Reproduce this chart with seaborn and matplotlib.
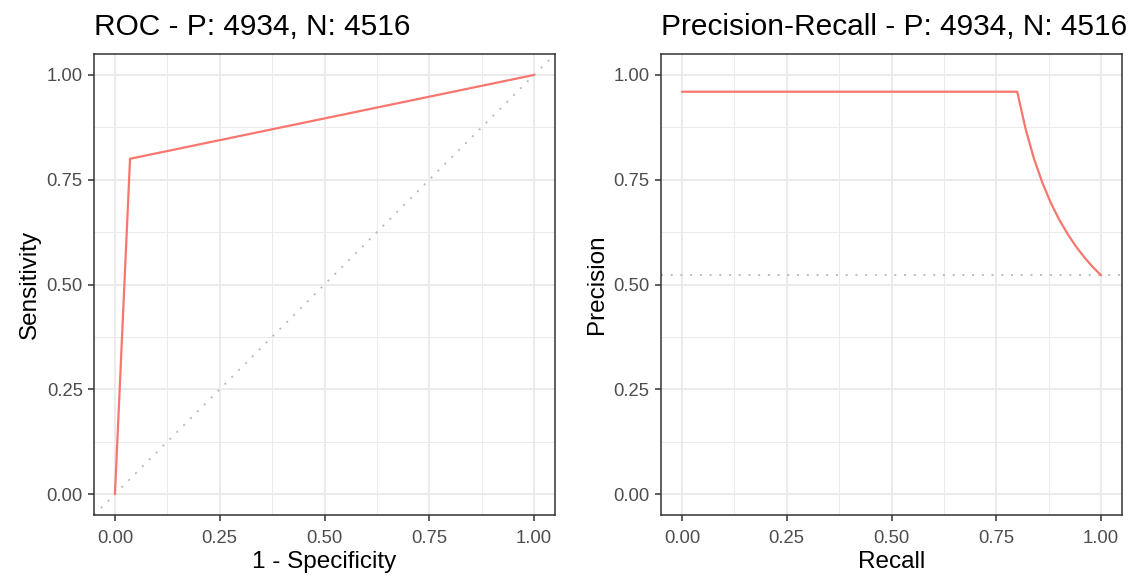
import numpy as np
import pandas as pd
import seaborn as sns
import matplotlib.pyplot as plt

# values
n_pos = 4934
n_neg = 4516

roc_fpr = [0.0, 0.036, 1.0]
roc_tpr = [0.0, 0.80, 1.0]

pr_recall = [0.0, 0.80, 0.82, 0.84, 0.86, 0.88, 0.90, 0.92, 0.94, 0.96, 0.98, 1.0]
pr_precision = [0.960, 0.960, 0.871, 0.800, 0.743, 0.695, 0.655, 0.621, 0.591, 0.565, 0.542, 0.522]

baseline = 0.522
ticks = [0.0, 0.25, 0.5, 0.75, 1.0]
tick_labels = ["0.00", "0.25", "0.50", "0.75", "1.00"]

line_col = "#F8766D"
grid_col = "#EBEBEB"

sns.set_theme(style="white")
plt.rcParams['font.family'] = ['Liberation Sans', 'DejaVu Sans']

fig = plt.figure(figsize=(11.38, 5.78), dpi=100)
W, H = 1138.0, 578.0
ax1 = fig.add_axes([94 / W, (H - 515) / H, 461 / W, 461 / H])
ax2 = fig.add_axes([661 / W, (H - 515) / H, 461 / W, 461 / H])

roc = pd.DataFrame({"fpr": roc_fpr, "tpr": roc_tpr})
pr = pd.DataFrame({"recall": pr_recall, "precision": pr_precision})


def style_axes(ax, title, xlabel, ylabel):
    ax.set_xlim(-0.05, 1.05)
    ax.set_ylim(-0.05, 1.05)
    minor = [0.125, 0.375, 0.625, 0.875]
    for v in ticks:
        ax.axvline(v, color=grid_col, lw=1.4, zorder=0)
        ax.axhline(v, color=grid_col, lw=1.4, zorder=0)
    for v in minor:
        ax.axvline(v, color=grid_col, lw=0.7, zorder=0)
        ax.axhline(v, color=grid_col, lw=0.7, zorder=0)
    ax.set_xticks(ticks)
    ax.set_xticklabels(tick_labels)
    ax.set_yticks(ticks)
    ax.set_yticklabels(tick_labels)
    ax.tick_params(axis='both', which='major', direction='out', length=4.6, width=1.1,
                   color='#333333', labelcolor='#4D4D4D', labelsize=13.3,
                   bottom=True, left=True)
    ax.tick_params(axis='x', pad=6)
    ax.tick_params(axis='y', pad=3.5)
    for sp in ax.spines.values():
        sp.set_color('#333333')
        sp.set_linewidth(1.1)
    ax.set_title(title, loc='left', fontsize=21.5, color='black', pad=14)
    ax.set_xlabel(xlabel, fontsize=17.5, color='black', labelpad=3)
    ax.set_ylabel(ylabel, fontsize=17.5, color='black', labelpad=4)


# ROC panel
ax1.axline((0, 0), slope=1, color='#BBBBBB', lw=1.4, ls=(0, (1, 4)), zorder=1)
sns.lineplot(data=roc, x="fpr", y="tpr", sort=False, color=line_col, lw=1.6, ax=ax1, zorder=2)
style_axes(ax1, "ROC - P: %d, N: %d" % (n_pos, n_neg), "1 - Specificity", "Sensitivity")

# Precision-recall panel
ax2.axhline(baseline, color='#BBBBBB', lw=1.4, ls=(0, (1, 4)), zorder=1)
sns.lineplot(data=pr, x="recall", y="precision", sort=False, color=line_col, lw=1.6, ax=ax2, zorder=2)
style_axes(ax2, "Precision-Recall - P: %d, N: %d" % (n_pos, n_neg), "Recall", "Precision")

fig.savefig("out.png", dpi=100)
